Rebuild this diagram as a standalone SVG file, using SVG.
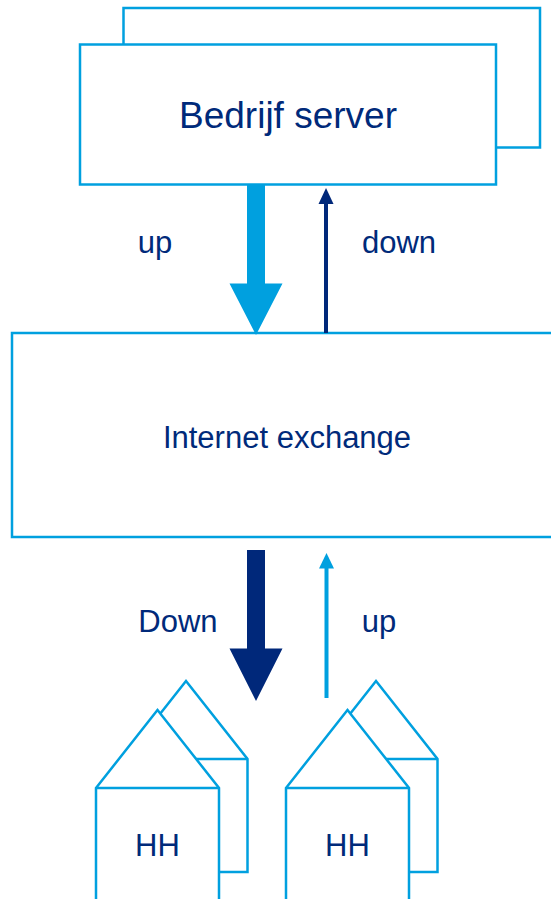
<svg xmlns="http://www.w3.org/2000/svg" width="551" height="899" viewBox="0 0 551 899">
<style>
.box{fill:#fff;stroke:#00A0DF;stroke-width:2.5}
.ln{fill:none;stroke:#00A0DF;stroke-width:2.5}
.t{font-family:"Liberation Sans",Arial,sans-serif;fill:#002A7A;text-anchor:middle}
.lb{fill:#00A0DF}
.nv{fill:#00287A}
</style>
<rect width="551" height="899" fill="#fff"/>
<g id="server">
<rect class="box" x="123.5" y="8" width="416.5" height="139.5"/>
<rect class="box" x="80" y="44.5" width="416" height="140"/>
<text class="t" x="288" y="128" font-size="37">Bedrijf server</text>
</g>
<g id="ix">
<rect class="box" x="12" y="333" width="560" height="204"/>
<text class="t" x="287" y="448" font-size="31">Internet exchange</text>
</g>
<g id="hh1">
<polygon class="box" points="124.5,759 186,681 247.5,759 247.5,872 124.5,872"/>
<line class="ln" x1="124.5" y1="759" x2="247.5" y2="759"/>
<polygon class="box" points="96,788 157.5,710 219,788 219,905 96,905"/>
<line class="ln" x1="96" y1="788" x2="219" y2="788"/>
<text class="t" x="157.5" y="856" font-size="31">HH</text>
</g>
<g id="hh2">
<polygon class="box" points="314.5,759 376,681 437.5,759 437.5,872 314.5,872"/>
<line class="ln" x1="314.5" y1="759" x2="437.5" y2="759"/>
<polygon class="box" points="286,788 347.5,710 409,788 409,905 286,905"/>
<line class="ln" x1="286" y1="788" x2="409" y2="788"/>
<text class="t" x="347.5" y="856" font-size="31">HH</text>
</g>
<g id="connectors">
<polygon class="lb" points="247,184 265,184 265,283.5 282.5,283.5 256,335 229.5,283.5 247,283.5"/>
<line x1="326" y1="333" x2="326" y2="202" stroke="#00287A" stroke-width="4"/>
<polygon class="nv" points="318.5,204 333.5,204 326,188"/>
<polygon class="nv" points="247,550 265,550 265,648.5 282.5,648.5 256,701 229.5,648.5 247,648.5"/>
<line x1="326.5" y1="698" x2="326.5" y2="567" stroke="#00A0DF" stroke-width="4"/>
<polygon class="lb" points="319,568.5 334,568.5 326.5,553"/>
</g>
<g id="labels">
<text class="t" x="155" y="253" font-size="31">up</text>
<text class="t" x="399" y="253" font-size="31">down</text>
<text class="t" x="178" y="632" font-size="31">Down</text>
<text class="t" x="379" y="632" font-size="31">up</text>
</g>
</svg>
